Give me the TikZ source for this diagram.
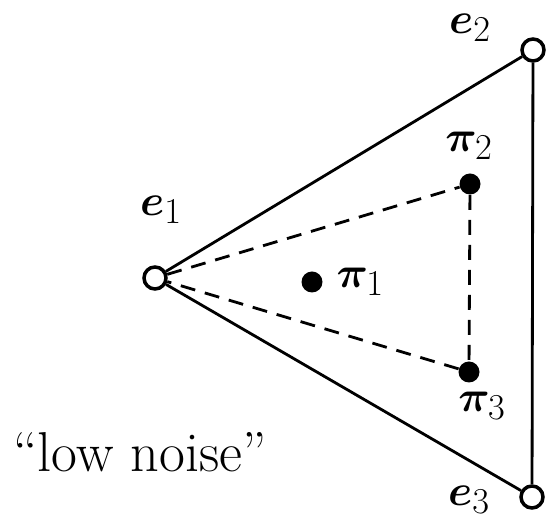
\documentclass[tikz,border=0pt]{standalone}
\usepackage{amsmath}
\usepackage{bm}
\usetikzlibrary{positioning}

\begin{document}
\begin{tikzpicture}[x=0.02cm, y=-0.02cm, font=\fontsize{32}{38}\selectfont,
    vertex/.style={circle, draw, fill=white, line width=2pt, minimum size=0.44cm, inner sep=0pt},
    point/.style={circle, fill=black, minimum size=0.42cm, inner sep=0pt},
    edge/.style={line width=1.6pt},
    simplex/.style={line width=1.6pt, dashed, dash pattern=on 0.3cm off 0.2cm}]
    \useasboundingbox (0,0) rectangle (548,519);
    % corners of the simplex
    \node[vertex] (e1) at (155,278) {};
    \node[vertex] (e2) at (533,50) {};
    \node[vertex] (e3) at (532,497) {};
    % points inside
    \node[point] (p1) at (312,282) {};
    \node[point] (p2) at (470,184) {};
    \node[point] (p3) at (469,372) {};
    \begin{scope}[on background layer/.try]
    \foreach \s/\t in {e1/e2, e2/e3, e3/e1} \draw[edge] (\s) -- (\t);
    \foreach \s/\t in {e1/p2, p2/p3, p3/e1} \draw[simplex] (\s) -- (\t);
    \end{scope}
    \node (l1) at (161,210) {$\bm{e}_1$};
    \node (l2) at (470,28) {$\bm{e}_2$};
    \node (l3) at (469,500) {$\bm{e}_3$};
    \node[right=0.15cm of p1] (q1) {$\bm{\pi}_1$};
    \node (q2) at (469,146) {$\bm{\pi}_2$};
    \node (q3) at (482,406) {$\bm{\pi}_3$};
    \node (noise) at (140,452) {``low noise''};
\end{tikzpicture}
\end{document}
